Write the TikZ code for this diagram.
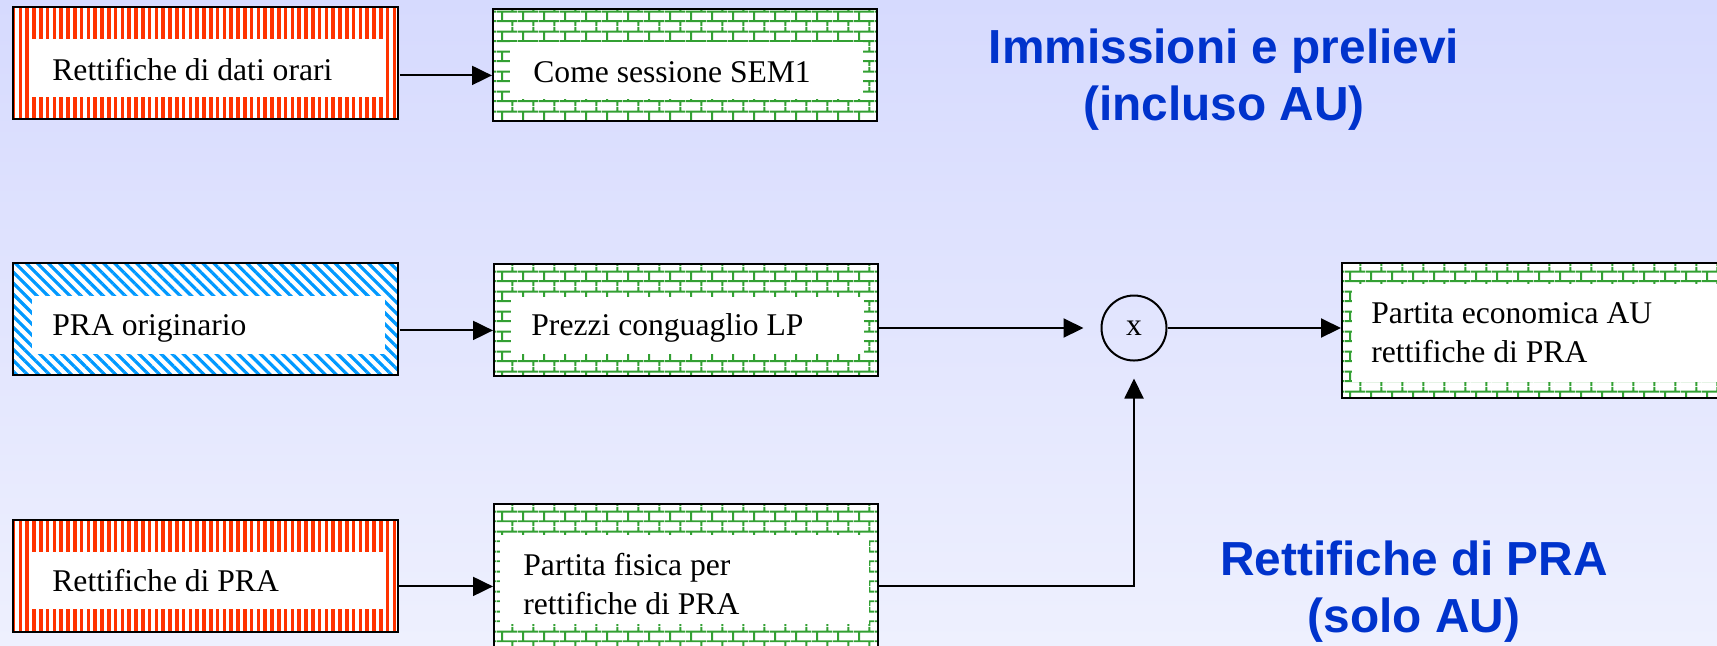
\documentclass[tikz,border=0pt]{standalone}
\usepackage{fontspec}
\setmainfont{Liberation Serif}
\newfontfamily\headfont{Liberation Sans}
\usetikzlibrary{arrows.meta,positioning,fit,patterns.meta}
\definecolor{bgtop}{RGB}{214,218,254}
\definecolor{bgbot}{RGB}{238,240,254}
\definecolor{strred}{RGB}{255,51,0}
\definecolor{strblue}{RGB}{0,153,255}
\definecolor{brkgreen}{RGB}{51,160,51}
\definecolor{headblue}{RGB}{0,51,204}

% brick wall fill
\pgfdeclarepattern{
  name=brickwall,
  type=uncolored,
  bottom left={\pgfpoint{0pt}{0pt}},
  top right={\pgfpoint{10.35pt}{10pt}},
  tile size={\pgfpoint{10.35pt}{10pt}},
  code={
    \pgfsetlinewidth{1pt}
    \pgfpathmoveto{\pgfpoint{0pt}{2.5pt}}\pgfpathlineto{\pgfpoint{10.35pt}{2.5pt}}
    \pgfpathmoveto{\pgfpoint{0pt}{7.5pt}}\pgfpathlineto{\pgfpoint{10.35pt}{7.5pt}}
    \pgfpathmoveto{\pgfpoint{2.6pt}{2.5pt}}\pgfpathlineto{\pgfpoint{2.6pt}{7.5pt}}
    \pgfpathmoveto{\pgfpoint{7.775pt}{7.5pt}}\pgfpathlineto{\pgfpoint{7.775pt}{10pt}}
    \pgfpathmoveto{\pgfpoint{7.775pt}{0pt}}\pgfpathlineto{\pgfpoint{7.775pt}{2.5pt}}
    \pgfusepath{stroke}
  }
}

\tikzset{
  redbox/.style={draw, line width=1pt, inner sep=0pt, preaction={fill=white},
    pattern={Lines[angle=90,distance=3.4pt,line width=1.8pt]}, pattern color=strred},
  bluebox/.style={draw, line width=1pt, inner sep=0pt, preaction={fill=white},
    pattern={Lines[angle=-45,distance=3.9pt,line width=1.6pt]}, pattern color=strblue},
  brickbox/.style={draw, line width=1pt, inner sep=0pt, preaction={fill=white},
    pattern=brickwall, pattern color=brkgreen},
  inbox/.style={fill=white, inner sep=0pt},
  txt/.style={font=\fontsize{15.8}{19.5}\selectfont, inner sep=0pt, align=left},
  head/.style={font=\headfont\bfseries\fontsize{23.9}{28.5}\selectfont, text=headblue, inner sep=0pt, align=center},
  conn/.style={line width=1pt, -{Triangle[length=10pt,width=9.5pt]}}
}

\begin{document}
\begin{tikzpicture}[x=0.5pt, y=-0.5pt]
  \useasboundingbox (0,0) rectangle (1717,645);
  \clip (0,0) rectangle (1717,645);
  \fill[top color=bgtop, bottom color=bgbot] (0,0) rectangle (1717,645);

  % immissioni e prelievi
  \node[redbox, fit={(13,7) (398,119)}] (rdo) {};
  \node[inbox, fit={(32,39) (385,97)}] (rdoin) {};
  \node[txt, anchor=base west] (rdot) at (52,80) {Rettifiche di dati orari};
  \node[brickbox, fit={(493,9) (877,121)}] (sem) {};
  \node[inbox, fit={(510,42) (863,99)}] (semin) {};
  \node[txt, anchor=base west] (semt) at (533,82) {Come sessione SEM1};
  \node[head, anchor=base] (head1) at (1224,120) {Immissioni e prelievi\\(incluso AU)};

  % rettifiche di PRA
  \node[bluebox, fit={(13,263) (398,375)}] (pra) {};
  \node[inbox, fit={(32,296) (385,354)}] (prain) {};
  \node[txt, anchor=base west] (prat) at (52,335) {PRA originario};
  \node[brickbox, fit={(494,264) (878,376)}] (lp) {};
  \node[inbox, fit={(511,297) (864,354)}] (lpin) {};
  \node[txt, anchor=base west] (lpt) at (531,335) {Prezzi conguaglio LP};
  \node[circle, draw, line width=1pt, minimum size=32.5pt, inner sep=0pt,
    font=\fontsize{15.8}{19.5}\selectfont] (mul) at (1134,328) {x};
  \node[brickbox, fit={(1342,263) (1730,398)}] (eco) {};
  \node[inbox, fit={(1352,284) (1730,382)}] (ecoin) {};
  \node[txt, anchor=base west] (ecot) at (1371,362) {Partita economica AU\\rettifiche di PRA};

  \node[redbox, fit={(13,520) (398,632)}] (rpra) {};
  \node[inbox, fit={(32,552) (385,609)}] (rprain) {};
  \node[txt, anchor=base west] (rprat) at (52,591) {Rettifiche di PRA};
  \node[brickbox, fit={(494,504) (878,660)}] (fis) {};
  \node[inbox, fit={(500,535) (869,624)}] (fisin) {};
  \node[txt, anchor=base west] (fist) at (523,614) {Partita fisica per\\rettifiche di PRA};
  \node[head, anchor=base] (head2) at (1414,632) {Rettifiche di PRA\\(solo AU)};

  % connectors
  \draw[conn] (rdo.east |- rdot.mid) -- (sem.west |- rdot.mid);
  \draw[conn] (pra.east |- prat.mid) -- (lp.west |- prat.mid);
  \draw[conn, shorten >=8.5pt] (lp.east |- mul) -- (mul);
  \draw[conn] (mul) -- (eco.west |- mul);
  \draw[conn] (rpra.east |- rprat.mid) -- (fis.west |- rprat.mid);
  \draw[conn, shorten >=8.5pt] (fis.east |- rprat.mid) -| (mul);
\end{tikzpicture}
\end{document}
